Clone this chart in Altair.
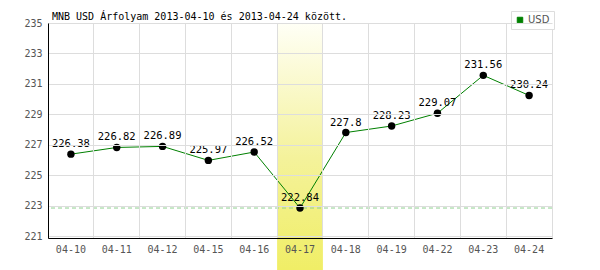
import altair as alt
import pandas as pd

dates = ["04-10", "04-11", "04-12", "04-15", "04-16", "04-17",
         "04-18", "04-19", "04-22", "04-23", "04-24"]
rates = [226.38, 226.82, 226.89, 225.97, 226.52, 222.84,
         227.8, 228.23, 229.07, 231.56, 230.24]
series_name = ["USD"] * len(dates)
highlight_dates = ["04-17"]
y_ticks = [221, 223, 225, 227, 229, 231, 233, 235]
y_domain = [220.87, 235]
title_text = "MNB USD Árfolyam 2013-04-10 és 2013-04-24 között."

df = pd.DataFrame({"date": dates, "rate": rates, "series": series_name})
hl = pd.DataFrame({"date": highlight_dates})
tdf = pd.DataFrame({"t": [title_text]})

MONO = "DejaVu Sans Mono"
W, H = 504, 215

x_scale = alt.Scale(domain=dates, paddingInner=0, paddingOuter=0)
x_axis = alt.Axis(title=None, grid=True, gridColor="#dddddd", gridWidth=1,
                  bandPosition=0, ticks=False,
                  labelAngle=0, labelFont=MONO, labelFontSize=10,
                  labelColor="#555555", labelPadding=6,
                  domainColor="#000000", domainWidth=1, zindex=1)
y_scale = alt.Scale(domain=y_domain, nice=False, zero=False)
y_axis = alt.Axis(title=None, values=y_ticks, grid=True, gridColor="#dddddd",
                  ticks=False, labelFont=MONO, labelFontSize=10,
                  labelColor="#555555", labelPadding=6, labelOverlap=False,
                  labelFlush=False,
                  domainColor="#000000", domainWidth=1, zindex=1)


def X():
    return alt.X("date:N", sort=dates, scale=x_scale, axis=x_axis)


def Y(field="rate:Q"):
    return alt.Y(field, scale=y_scale, axis=y_axis)


base = alt.Chart(df)

highlight = alt.Chart(hl).mark_rect(
    clip=False,
    color=alt.Gradient(
        gradient="linear", x1=0, x2=0, y1=0, y2=1,
        stops=[alt.GradientStop(color="#fffff6", offset=0),
               alt.GradientStop(color="#f4f29a", offset=0.55),
               alt.GradientStop(color="#f0ee66", offset=1)],
    ),
).encode(
    x=X(),
    y=alt.value(0), y2=alt.value(H + 32),
)

min_rule = base.mark_rule(color="#8fd08f", strokeDash=[4, 3], strokeWidth=1).encode(
    y=Y("min(rate):Q")
)

line = base.mark_line(strokeWidth=1).encode(
    x=X(), y=Y(),
    color=alt.Color(
        "series:N", scale=alt.Scale(range=["#008000"]),
        legend=alt.Legend(
            title=None, orient="none", legendX=463, legendY=-12,
            symbolType="square", symbolSize=30, symbolFillColor="#008000",
            symbolStrokeColor="#333333", symbolStrokeWidth=1,
            labelFont="DejaVu Sans", labelFontSize=10, labelColor="#555555",
            labelOffset=3, padding=4, strokeColor="#dddddd", fillColor="#ffffff",
        ),
    ),
)

points = base.mark_circle(size=55, color="#000000", opacity=1).encode(
    x=X(), y=Y()
)

labels = base.mark_text(font=MONO, fontSize=10.5, color="#000000", dy=-10,
                        baseline="middle").encode(
    x=X(), y=Y(),
    text=alt.Text("rate:Q", format=".2~f"),
)

title = alt.Chart(tdf).mark_text(
    font=MONO, fontSize=10, color="#000000", align="left",
    baseline="alphabetic", clip=False,
).encode(x=alt.value(4), y=alt.value(-3), text="t:N")

chart = alt.layer(highlight, min_rule, line, points, labels, title).properties(
    width=W, height=H,
    autosize=alt.AutoSizeParams(type="none"),
    padding={"left": 48, "top": 23, "right": 48, "bottom": 32},
).configure_view(stroke="#dddddd", strokeWidth=1)

chart.save("out.html", embed_options={"renderer": "svg", "actions": False})
